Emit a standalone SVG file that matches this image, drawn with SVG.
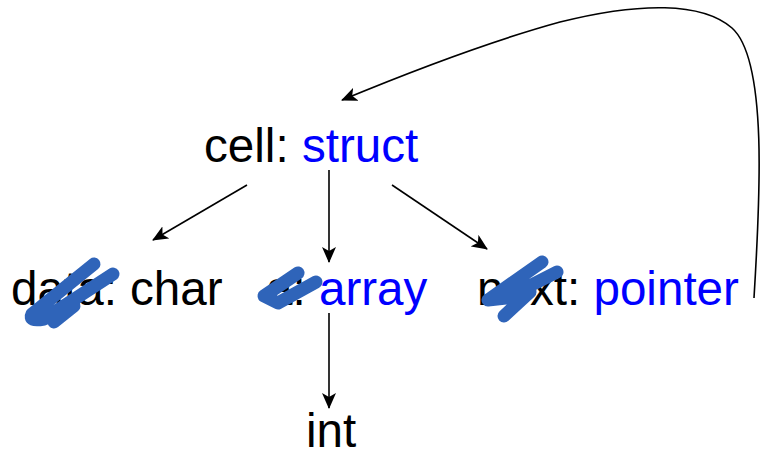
<svg xmlns="http://www.w3.org/2000/svg" width="760" height="454" viewBox="0 0 760 454">
<style>
text{font-family:"Liberation Sans",Arial,sans-serif;font-size:47.6px;fill:#000}
.b{fill:#0000ff}
.c{fill:none;stroke:#000;stroke-width:1.6}
.s{fill:none;stroke:#2f64b9;stroke-width:13;stroke-linecap:round;stroke-linejoin:round}
</style>
<defs>
<marker id="ah" markerUnits="userSpaceOnUse" markerWidth="16" markerHeight="14" refX="15" refY="7" orient="auto">
<path d="M0,0 L16,7 L0,14 L4,7 z" fill="#000"/>
</marker>
</defs>
<rect width="760" height="454" fill="#fff"/>
<g id="cell"><text x="204" y="162">cell: <tspan class="b">struct</tspan></text></g>
<g id="data"><text x="11" y="305">data: char</text>
<path class="s" d="M94 264 L32 314 Q28 322 44 319 L113 274 M54 322 L74 306"/></g>
<g id="array"><text x="266" y="305">a: <tspan class="b">array</tspan></text>
<path class="s" d="M298 273 L264 296 L278 303 L316 282"/></g>
<g id="next"><text x="477" y="305">next: <tspan class="b">pointer</tspan></text>
<path class="s" d="M542 262 L488 300 L506 298 L557 272 M530 292 L504 316"/></g>
<g id="int"><text x="306" y="447">int</text></g>
<g id="connectors">
<line class="c" x1="247" y1="185" x2="153" y2="240" marker-end="url(#ah)"/>
<line class="c" x1="329" y1="170" x2="329" y2="262" marker-end="url(#ah)"/>
<line class="c" x1="392" y1="185" x2="487" y2="249" marker-end="url(#ah)"/>
<line class="c" x1="329" y1="313" x2="329" y2="408" marker-end="url(#ah)"/>
<path class="c" d="M754 298 C760 200 768 60 732 28 C702 2 640 2 560 22 C480 44 400 76 342 100" marker-end="url(#ah)"/>
</g>
</svg>
